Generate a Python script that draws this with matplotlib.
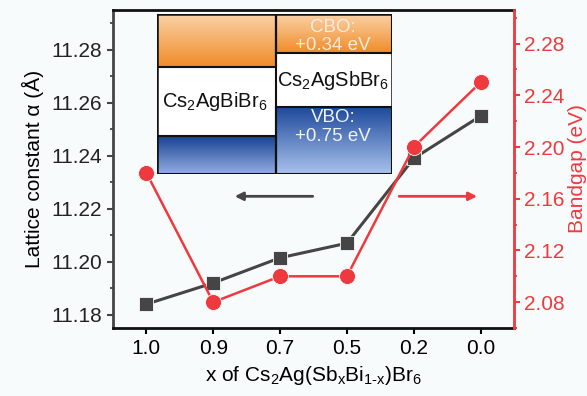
import numpy as np
import matplotlib
matplotlib.use("Agg")
import matplotlib.pyplot as plt
from matplotlib.ticker import MultipleLocator

plt.rcParams["font.family"] = ["Liberation Sans", "DejaVu Sans"]
plt.rcParams["mathtext.fontset"] = "custom"
plt.rcParams["mathtext.rm"] = "Liberation Sans"
plt.rcParams["mathtext.it"] = "Liberation Sans"
plt.rcParams["mathtext.default"] = "regular"

# data
x_labels = ["1.0", "0.9", "0.7", "0.5", "0.2", "0.0"]
lattice = [11.184, 11.192, 11.2015, 11.207, 11.239, 11.255]
bandgap = [2.18, 2.08, 2.10, 2.10, 2.20, 2.25]

bg = "#f8fbfc"
dark = "#454545"
red = "#ee3a3e"
fs = 15

fig = plt.figure(figsize=(5.87, 3.96), dpi=100, facecolor=bg)
ax = fig.add_axes([0.1925, 0.1717, 0.6831, 0.803])
ax.set_facecolor(bg)
ax2 = ax.twinx()

xs = np.arange(len(x_labels))
ax.plot(xs, lattice, color=dark, lw=2.2, marker="s", ms=10, mec=bg, mew=0.6, zorder=3)
ax2.plot(xs, bandgap, color=red, lw=1.8, marker="o", ms=11.5, mec=bg, mew=0.6, zorder=3)

ax.set_xlim(-0.5, 5.5)
ax.set_ylim(11.175, 11.295)
ax2.set_ylim(2.06, 2.306)
ax.set_xticks(xs)
ax.set_xticklabels(x_labels)
ax.yaxis.set_major_locator(MultipleLocator(0.02))
ax.yaxis.set_minor_locator(MultipleLocator(0.01))
ax2.yaxis.set_major_locator(MultipleLocator(0.04))
ax2.yaxis.set_minor_locator(MultipleLocator(0.02))

ax.tick_params(axis="both", which="major", labelsize=fs, length=4, width=1.5, direction="out", pad=4)
ax.tick_params(axis="y", which="minor", length=2.5, width=1.3, colors=dark)
ax.tick_params(axis="y", colors=dark, labelcolor="#222222")
ax2.tick_params(axis="y", which="major", labelsize=fs, length=4, width=1.5, colors=red, labelcolor=red, pad=3)
ax2.tick_params(axis="y", which="minor", length=2.5, width=1.3, colors=red)

for s in ["top", "bottom"]:
    ax.spines[s].set_linewidth(2)
    ax.spines[s].set_color("#111111")
ax.spines["left"].set_linewidth(2)
ax.spines["left"].set_color(dark)
ax2.spines["right"].set_linewidth(2)
ax2.spines["right"].set_color(red)
for s in ["top", "bottom", "left"]:
    ax2.spines[s].set_visible(False)

ax.set_ylabel("Lattice constant α (Å)", fontsize=fs, labelpad=5)
ax2.set_ylabel("Bandgap (eV)", fontsize=fs, color=red, labelpad=3)
ax.set_xlabel(r"x of Cs$_2$Ag(Sb$_x$Bi$_{1\text{-}x}$)Br$_6$", fontsize=fs, labelpad=4)

# arrows
ax.annotate("", xy=(1.28, 11.2247), xytext=(2.53, 11.2247),
            arrowprops=dict(arrowstyle="-|>", color=dark, lw=2, mutation_scale=12))
ax.annotate("", xy=(4.99, 11.2247), xytext=(3.74, 11.2247),
            arrowprops=dict(arrowstyle="-|>", color=red, lw=2, mutation_scale=12))

# band alignment inset
ins = fig.add_axes([0.2675, 0.5606, 0.4003, 0.404])
ins.set_xlim(0, 235)
ins.set_ylim(160, 0)
ins.axis("off")

orange = np.array([[0.98, 0.82, 0.65], [0.94, 0.55, 0.16]])
blue_l = np.array([[0.10, 0.26, 0.57], [0.58, 0.68, 0.89]])
blue_r = np.array([[0.12, 0.29, 0.61], [0.66, 0.76, 0.93]])


def grad(c, x0, x1, y0, y1):
    t = np.linspace(0, 1, 64)[:, None]
    img = (c[0] * (1 - t) + c[1] * t)[:, None, :]
    ins.imshow(img, extent=(x0, x1, y1, y0), aspect="auto", zorder=1)
    ins.plot([x0, x1, x1, x0, x0], [y0, y0, y1, y1, y0], color="#111111", lw=1.5, zorder=2)


ins.add_patch(plt.Rectangle((0, 0), 235, 160, facecolor="white", zorder=0))
grad(orange, 0, 119, 0, 53)
grad(blue_l, 0, 119, 122, 160)
grad(orange, 119, 235, 0, 39)
grad(blue_r, 119, 235, 93, 160)
ins.plot([0, 235, 235, 0, 0], [0, 0, 160, 160, 0], color="#111111", lw=1.8, zorder=3)
ins.plot([119, 119], [0, 160], color="#111111", lw=1.5, zorder=3)
ins.set_xlim(0, 235)
ins.set_ylim(160, 0)

ins.text(176, 13, "CBO:", ha="center", va="center", fontsize=13.5, color="#fcebdc", zorder=4)
ins.text(176, 31, "+0.34 eV", ha="center", va="center", fontsize=13.5, color="#fcebdc", zorder=4)
ins.text(176, 66, "Cs$_2$AgSbBr$_6$", ha="center", va="center", fontsize=14.5, color="#111111", zorder=4)
ins.text(58, 87, "Cs$_2$AgBiBr$_6$", ha="center", va="center", fontsize=14.5, color="#111111", zorder=4)
ins.text(176, 103, "VBO:", ha="center", va="center", fontsize=13.5, color="#eef2fa", zorder=4)
ins.text(176, 122, "+0.75 eV", ha="center", va="center", fontsize=13.5, color="#eef2fa", zorder=4)

fig.savefig("out.png", dpi=100, facecolor=bg)
